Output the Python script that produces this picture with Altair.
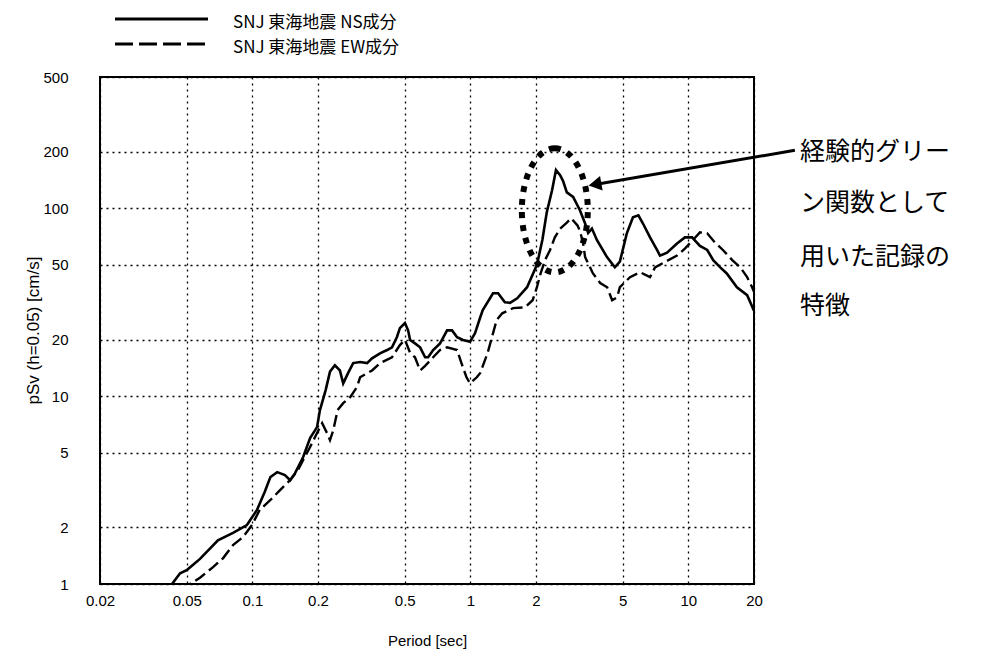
import altair as alt
import pandas as pd

# ---- data ----
ns_period = [0.035, 0.0428, 0.0466, 0.0502, 0.0575, 0.0695, 0.0815, 0.0944, 0.105, 0.114,
             0.121, 0.130, 0.141, 0.149, 0.157, 0.171, 0.184, 0.198, 0.204, 0.217,
             0.227, 0.239, 0.252, 0.261, 0.275, 0.290, 0.312, 0.336, 0.354, 0.385,
             0.415, 0.437, 0.460, 0.475, 0.501, 0.518, 0.529, 0.557, 0.588, 0.620,
             0.640, 0.675, 0.726, 0.782, 0.824, 0.869, 0.925, 0.996, 1.05, 1.11,
             1.14, 1.27, 1.34, 1.44, 1.52, 1.64, 1.82, 2.02, 2.14, 2.24,
             2.37, 2.47, 2.58, 2.66, 2.77, 2.96, 3.18, 3.36, 3.47, 3.61,
             3.81, 4.24, 4.60, 4.85, 5.22, 5.57, 5.90, 6.19, 6.67, 7.18,
             7.41, 7.98, 8.87, 9.64, 10.4, 11.3, 12.2, 13.0, 14.0, 15.0,
             16.7, 18.6, 20.0]
ns_value = [0.85, 1.0, 1.14, 1.19, 1.36, 1.71, 1.87, 2.06, 2.48, 3.1,
            3.71, 3.94, 3.80, 3.57, 3.89, 4.74, 5.98, 6.84, 8.4, 10.8,
            13.5, 14.6, 13.7, 11.7, 13.3, 15.0, 15.2, 15.0, 15.9, 16.9,
            17.6, 18.2, 20.6, 23.0, 24.5, 22.4, 19.9, 19.1, 18.2, 16.1,
            16.1, 17.6, 19.1, 22.4, 22.4, 20.6, 19.9, 19.5, 21.6, 26.3,
            28.7, 35.3, 35.3, 31.6, 31.4, 33.2, 38.0, 50.0, 68.0, 95.0,
            124.7, 160.0, 150.0, 140.0, 121.6, 115.0, 97.6, 83.0, 74.0, 78.0,
            67.6, 54.8, 48.5, 52.0, 73.6, 89.6, 91.8, 83.0, 70.0, 60.0,
            56.0, 58.0, 65.0, 70.0, 70.0, 63.0, 60.0, 53.0, 48.5, 45.0,
            38.0, 34.5, 28.5]

ew_period = [0.04, 0.0518, 0.0575, 0.066, 0.0733, 0.0815, 0.0906, 0.0996, 0.108, 0.121,
             0.134, 0.149, 0.162, 0.171, 0.184, 0.198, 0.209, 0.220, 0.227, 0.235,
             0.246, 0.261, 0.281, 0.302, 0.312, 0.354, 0.385, 0.437, 0.475, 0.501,
             0.529, 0.557, 0.588, 0.620, 0.675, 0.726, 0.782, 0.869, 0.910, 0.960,
             0.996, 1.07, 1.11, 1.20, 1.27, 1.32, 1.40, 1.57, 1.78, 1.93,
             2.02, 2.10, 2.20, 2.32, 2.44, 2.58, 2.77, 2.90, 3.10, 3.18,
             3.29, 3.36, 3.54, 3.65, 3.94, 4.24, 4.47, 4.71, 4.85, 5.40,
             6.00, 6.67, 7.03, 8.87, 9.64, 11.3, 12.2, 13.2, 14.4, 15.9,
             17.3, 18.6, 19.6, 20.0]
ew_value = [0.85, 1.0, 1.08, 1.23, 1.37, 1.61, 1.78, 2.06, 2.48, 2.80,
            3.16, 3.57, 4.04, 4.57, 5.36, 6.36, 7.18, 6.36, 5.83, 6.59,
            8.43, 9.18, 9.88, 11.2, 12.6, 13.7, 15.0, 16.1, 18.7, 20.0,
            17.0, 16.1, 13.7, 14.5, 16.1, 17.6, 18.2, 17.6, 15.0, 12.6,
            11.7, 12.6, 13.3, 17.0, 21.6, 25.4, 27.6, 29.4, 29.7, 32.4,
            38.0, 45.0, 53.0, 60.0, 70.0, 78.0, 84.0, 88.5, 81.0, 76.0,
            65.0, 55.0, 48.5, 45.0, 40.0, 38.0, 32.4, 33.6, 38.0, 43.0,
            45.7, 43.0, 48.5, 56.0, 61.0, 74.5, 73.6, 66.0, 60.0, 53.0,
            48.5, 43.0, 38.0, 36.0]

x_ticks = [0.02, 0.05, 0.1, 0.2, 0.5, 1, 2, 5, 10, 20]
y_ticks = [1, 2, 5, 10, 20, 50, 100, 200, 500]

legend_labels = ["SNJ 東海地震 NS成分", "SNJ 東海地震 EW成分"]
note_lines = ["経験的グリー", "ン関数として", "用いた記録の", "特徴"]
note_period = [32.5, 32.5, 32.5, 32.5]
note_value = [198.6, 106.3, 54.9, 30.1]

# annotation anchors (data coordinates)
ellipse_period = [2.44]
ellipse_value = [97.6]
arrow_from = (30.8, 203.6)
arrow_to = (3.73, 134.0)

# ---- build chart ----
df_ns = pd.DataFrame({"period": ns_period, "value": ns_value})
df_ew = pd.DataFrame({"period": ew_period, "value": ew_value})

FONT = "Liberation Sans"
JP = "Noto Sans CJK JP"

X = alt.X("period:Q",
          scale=alt.Scale(type="log", domain=[0.02, 20], nice=False, zero=False),
          axis=alt.Axis(values=x_ticks, format="~g", title="Period [sec]",
                        labelPadding=9, labelFlush=False, titleFontSize=15,
                        titleX=327, titleY=56, titleBaseline="middle"))
Y = alt.Y("value:Q",
          scale=alt.Scale(type="log", domain=[1, 500], nice=False, zero=False),
          axis=alt.Axis(values=y_ticks, format="~g", title="pSv (h=0.05) [cm/s]",
                        labelPadding=32, labelFlush=False, titleFontSize=17,
                        titleX=-67, titleY=253, titleAngle=-90,
                        titleBaseline="middle", titleAlign="center"))

ns = alt.Chart(df_ns).mark_line(color="black", strokeWidth=2.6, clip=True).encode(x=X, y=Y)
ew = alt.Chart(df_ew).mark_line(color="black", strokeWidth=2.4, strokeDash=[12, 5],
                                clip=True).encode(x=X, y=Y)

ellipse_path = ("M0,-1C0.294,-1,0.532,-0.552,0.532,0C0.532,0.552,0.294,1,0,1"
                "C-0.294,1,-0.532,0.552,-0.532,0C-0.532,-0.552,-0.294,-1,0,-1Z")
ellipse = alt.Chart(pd.DataFrame({"period": ellipse_period, "value": ellipse_value})).mark_point(
    shape=ellipse_path, size=15376, filled=False, stroke="black", strokeWidth=6,
    strokeDash=[6, 7], opacity=1
).encode(x=X, y=Y)

arrow_df = pd.DataFrame({"period": [arrow_from[0]], "value": [arrow_from[1]],
                         "period2": [arrow_to[0]], "value2": [arrow_to[1]]})
arrow_line = alt.Chart(arrow_df).mark_rule(color="black", strokeWidth=3).encode(
    x=X, y=Y, x2="period2:Q", y2="value2:Q")
arrow_head = alt.Chart(pd.DataFrame({"period": [arrow_to[0]], "value": [arrow_to[1]]})).mark_point(
    shape="triangle-left", size=220, filled=True, color="black", opacity=1, angle=350
).encode(x=X, y=Y)

note = alt.Chart(pd.DataFrame({"period": note_period, "value": note_value, "t": note_lines})).mark_text(
    align="left", baseline="middle", font=JP, fontSize=25, color="black"
).encode(x=X, y=Y, text="t:N")

leg_ns_line = alt.Chart(pd.DataFrame({"a": [0]})).mark_rule(color="black", strokeWidth=3).encode(
    x=alt.value(15), x2=alt.value(108), y=alt.value(-58))
leg_ew_line = alt.Chart(pd.DataFrame({"a": [0]})).mark_rule(
    color="black", strokeWidth=3, strokeDash=[18, 6]).encode(
    x=alt.value(15), x2=alt.value(108), y=alt.value(-33))
leg_ns_text = alt.Chart(pd.DataFrame({"t": [legend_labels[0]]})).mark_text(
    align="left", baseline="middle", font=JP, fontSize=17, color="black").encode(
    x=alt.value(133), y=alt.value(-54), text="t:N")
leg_ew_text = alt.Chart(pd.DataFrame({"t": [legend_labels[1]]})).mark_text(
    align="left", baseline="middle", font=JP, fontSize=17, color="black").encode(
    x=alt.value(133), y=alt.value(-29), text="t:N")

chart = alt.layer(
    ns, ew, ellipse, arrow_line, arrow_head, note,
    leg_ns_line, leg_ew_line, leg_ns_text, leg_ew_text
).properties(
    width=654, height=507,
    autosize=alt.AutoSizeParams(type="none"),
    padding={"left": 92, "top": 69, "right": 224, "bottom": 70},
    background="white",
).configure_view(
    stroke="black", strokeWidth=2
).configure_axis(
    labelFont=FONT, labelFontSize=15, labelColor="black",
    titleFont=FONT, titleFontSize=14, titleFontWeight="normal", titleColor="black",
    grid=True, gridColor="black", gridDash=[2, 4], gridWidth=1.3, gridOpacity=1,
    domain=False, ticks=False, tickSize=0
)

chart.save("out.html", embed_options={"renderer": "svg", "actions": False})
